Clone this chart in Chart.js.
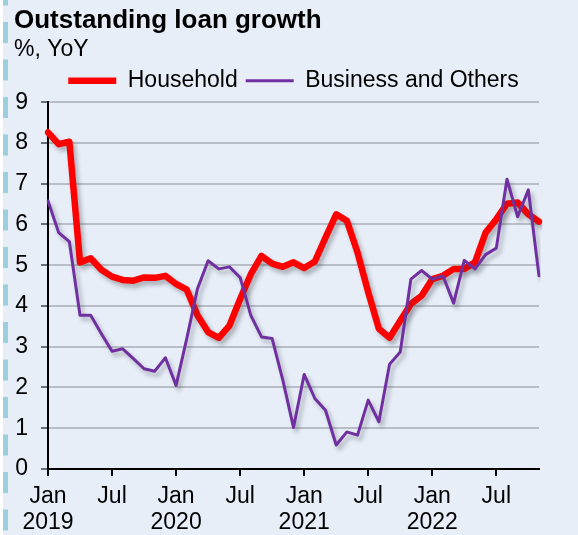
<!DOCTYPE html>
<html>
<head>
<meta charset="utf-8">
<script src="https://cdn.jsdelivr.net/npm/chart.js@4"></script>
<style>
  html, body { margin: 0; padding: 0; background: #e7eef8; }
  canvas { display: block; }
</style>
</head>
<body>
<canvas id="loans" width="578" height="535"></canvas>
<script>
// monthly series, Jan 2019 .. Nov 2022
var firstYear = 2019;
var monthCount = 47;
var janLabel = 'Jan';
var julLabel = 'Jul';

var household = [8.26, 7.97, 8.03, 5.07, 5.17, 4.89, 4.72, 4.64, 4.62, 4.70, 4.69, 4.74,
                 4.54, 4.40, 3.77, 3.36, 3.22, 3.52, 4.17, 4.78, 5.23, 5.04, 4.96, 5.07,
                 4.93, 5.09, 5.68, 6.25, 6.09, 5.31, 4.34, 3.44, 3.22, 3.64, 4.05, 4.25,
                 4.66, 4.74, 4.91, 4.91, 5.07, 5.80, 6.13, 6.51, 6.54, 6.25, 6.07];

var business = [6.58, 5.80, 5.58, 3.77, 3.77, 3.32, 2.89, 2.95, 2.71, 2.46, 2.40, 2.73,
                2.05, 3.20, 4.42, 5.11, 4.91, 4.96, 4.70, 3.77, 3.24, 3.20, 2.18, 1.02,
                2.32, 1.73, 1.44, 0.59, 0.91, 0.83, 1.69, 1.16, 2.57, 2.87, 4.66, 4.87,
                4.66, 4.74, 4.07, 5.12, 4.91, 5.26, 5.42, 7.11, 6.19, 6.85, 4.74];

var months = [];
for (var i = 0; i < monthCount; i++) {
  months.push({ year: firstYear + Math.floor(i / 12), month: i % 12 });
}

Chart.defaults.font.family = "'Liberation Sans', Arial, sans-serif";
Chart.defaults.color = '#000';

// page background, white edge and the dashed blue strip on the left
var backdrop = {
  id: 'backdrop',
  beforeDraw: function(chart) {
    var c = chart.ctx;
    c.save();
    c.fillStyle = '#e7eef8';
    c.fillRect(0, 0, chart.width, chart.height);
    c.fillStyle = '#ffffff';
    c.fillRect(0, 0, 3, chart.height);
    c.fillStyle = '#9bcfde';
    for (var y = -15.5; y < chart.height; y += 37.5) {
      c.fillRect(3, y, 5, 21);
    }
    c.restore();
  }
};

// soft drop shadow under both lines
var lineShadow = {
  id: 'lineShadow',
  beforeDatasetDraw: function(chart) {
    var c = chart.ctx;
    c.save();
    c.shadowColor = 'rgba(60,60,70,0.35)';
    c.shadowBlur = 4;
    c.shadowOffsetX = 3;
    c.shadowOffsetY = 4;
  },
  afterDatasetDraw: function(chart) {
    chart.ctx.restore();
  }
};

var ctx = document.getElementById('loans').getContext('2d');
var chart = new Chart(ctx, {
  type: 'line',
  data: {
    labels: months.map(function(m) { return m.year + '-' + (m.month + 1); }),
    datasets: [{
      label: 'Household',
      data: household,
      borderColor: '#ff0000',
      backgroundColor: '#ff0000',
      borderWidth: 6.5,
      borderCapStyle: 'round',
      borderJoinStyle: 'round',
      pointRadius: 0,
      tension: 0,
      order: 1
    }, {
      label: 'Business and Others',
      data: business,
      borderColor: '#7030a0',
      backgroundColor: '#7030a0',
      borderWidth: 3,
      borderCapStyle: 'round',
      borderJoinStyle: 'round',
      pointRadius: 0,
      tension: 0,
      order: 0
    }]
  },
  options: {
    responsive: false,
    animation: false,
    layout: { padding: { left: 14, right: 39, top: 0, bottom: 0 } },
    plugins: {
      tooltip: { enabled: false },
      title: {
        display: true,
        text: 'Outstanding loan growth',
        align: 'start',
        font: { size: 26, weight: 'bold', lineHeight: 1.2 },
        padding: { top: 5, bottom: 2 }
      },
      subtitle: {
        display: true,
        text: '%, YoY',
        align: 'start',
        font: { size: 23, lineHeight: 1.0 },
        padding: { top: 0, bottom: 0 }
      },
      legend: {
        display: true,
        fullSize: false,
        align: 'center',
        labels: {
          usePointStyle: true,
          pointStyle: 'line',
          pointStyleWidth: 48,
          padding: 8,
          font: { size: 23 },
          sort: function(a, b) { return a.datasetIndex - b.datasetIndex; }
        }
      }
    },
    scales: {
      x: {
        type: 'category',
        offset: false,
        afterFit: function(scale) { scale.height = 66; },
        grid: {
          drawOnChartArea: false,
          drawTicks: true,
          tickLength: 7,
          tickColor: '#000',
          tickWidth: 2,
          lineWidth: 2
        },
        border: { display: true, color: '#000', width: 2 },
        ticks: {
          autoSkip: false,
          maxRotation: 0,
          padding: 7,
          font: { size: 23, lineHeight: 1.15 },
          callback: function(value, index) {
            var m = months[index];
            if (m.month === 0) return [janLabel, String(m.year)];
            if (m.month === 6) return julLabel;
            return null;
          }
        }
      },
      y: {
        min: 0,
        max: 9,
        afterFit: function(scale) { scale.width = 34; },
        grid: {
          color: '#b9bdc5',
          lineWidth: 2,
          tickLength: 7,
          tickColor: '#6b6e75',
          tickWidth: 2
        },
        border: { display: true, color: '#000', width: 2 },
        ticks: {
          stepSize: 1,
          padding: 13,
          font: { size: 23 }
        }
      }
    }
  },
  plugins: [backdrop, lineShadow]
});
</script>
</body>
</html>
